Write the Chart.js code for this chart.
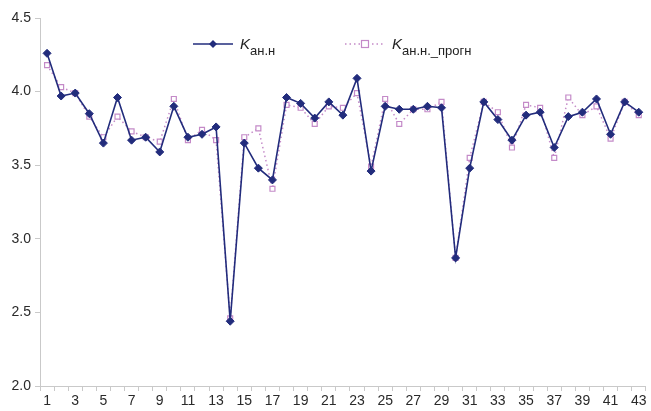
<!DOCTYPE html>
<html>
<head>
<meta charset="utf-8">
<script src="https://cdn.jsdelivr.net/npm/chart.js@4/dist/chart.umd.min.js"></script>
<style>
  html, body { margin: 0; padding: 0; background: #fff; }
  #wrap { width: 651px; height: 411px; position: relative; }
</style>
</head>
<body>
<div id="wrap"><canvas id="c" width="651" height="411"></canvas></div>
<script>
// Observation numbers 1..43
const categories = Array.from({ length: 43 }, (_, i) => String(i + 1));

// Measured coefficient K_ан.н
const kActual = [
  4.26, 3.97, 3.99, 3.85, 3.65, 3.96, 3.67, 3.69, 3.59, 3.90,
  3.69, 3.71, 3.76, 2.44, 3.65, 3.48, 3.40, 3.96, 3.92, 3.82,
  3.93, 3.84, 4.09, 3.46, 3.90, 3.88, 3.88, 3.90, 3.89, 2.87,
  3.48, 3.93, 3.81, 3.67, 3.84, 3.86, 3.62, 3.83, 3.86, 3.95,
  3.71, 3.93, 3.86
];

// Forecast coefficient K_ан.н._прогн
const kForecast = [
  4.18, 4.03, 3.99, 3.83, 3.69, 3.83, 3.73, 3.69, 3.66, 3.95,
  3.67, 3.74, 3.67, 2.46, 3.69, 3.75, 3.34, 3.91, 3.89, 3.78,
  3.90, 3.89, 3.99, 3.49, 3.95, 3.78, 3.88, 3.88, 3.93, 2.87,
  3.55, 3.93, 3.86, 3.62, 3.91, 3.89, 3.55, 3.96, 3.84, 3.90,
  3.68, 3.93, 3.84
];

const yTicks = [2.0, 2.5, 3.0, 3.5, 4.0, 4.5];

const NAVY = '#222c7c';
const PINK = '#c48ac8';
const AXIS = '#c9c9c9';
const FONT = '"Liberation Sans", Arial, sans-serif';

// Legend with subscripted labels, drawn inside the plot area
const subLegend = {
  id: 'subLegend',
  afterDraw(chart) {
    const ctx = chart.ctx;
    ctx.save();
    const y = 44;
    const entry = (x0, dashed, marker, sub) => {
      ctx.beginPath();
      ctx.lineWidth = 1.5;
      if (dashed) {
        ctx.setLineDash([1.5, 3]);
        ctx.strokeStyle = PINK;
      } else {
        ctx.setLineDash([]);
        ctx.strokeStyle = NAVY;
      }
      ctx.moveTo(x0, y);
      ctx.lineTo(x0 + 40, y);
      ctx.stroke();
      ctx.setLineDash([]);
      const mx = x0 + 20;
      if (marker === 'diamond') {
        ctx.fillStyle = NAVY;
        ctx.beginPath();
        ctx.moveTo(mx, y - 4); ctx.lineTo(mx + 4, y);
        ctx.lineTo(mx, y + 4); ctx.lineTo(mx - 4, y);
        ctx.closePath(); ctx.fill();
      } else {
        ctx.fillStyle = '#fff';
        ctx.strokeStyle = PINK;
        ctx.lineWidth = 1.2;
        ctx.fillRect(mx - 3.5, y - 3.5, 7, 7);
        ctx.strokeRect(mx - 3.5, y - 3.5, 7, 7);
      }
      ctx.fillStyle = '#222';
      ctx.textBaseline = 'alphabetic';
      ctx.font = 'italic 15px ' + FONT;
      ctx.fillText('K', x0 + 47, y + 5);
      ctx.font = '13px ' + FONT;
      ctx.fillText(sub, x0 + 57, y + 11);
    };
    entry(193, false, 'diamond', 'ан.н');
    entry(345, true, 'square', 'ан.н._прогн');
    ctx.restore();
  }
};

new Chart(document.getElementById('c'), {
  type: 'line',
  data: {
    labels: categories,
    datasets: [
      {
        label: 'Kан.н',
        data: kActual,
        borderColor: NAVY,
        backgroundColor: NAVY,
        borderWidth: 1.6,
        pointStyle: 'rectRot',
        pointRadius: 4,
        pointBorderWidth: 1,
        tension: 0,
        order: 0
      },
      {
        label: 'Kан.н._прогн',
        data: kForecast,
        borderColor: PINK,
        backgroundColor: '#ffffff',
        borderWidth: 1.5,
        borderDash: [1.5, 3],
        pointStyle: 'rect',
        pointRadius: 3.5,
        pointBorderWidth: 1.2,
        pointBorderColor: PINK,
        pointBackgroundColor: '#ffffff',
        tension: 0,
        order: 1
      }
    ]
  },
  options: {
    responsive: false,
    animation: false,
    layout: { padding: { top: 18, right: 3, left: 0, bottom: 0 } },
    plugins: {
      legend: { display: false },
      tooltip: { enabled: false }
    },
    scales: {
      x: {
        type: 'category',
        offset: true,
        grid: {
          display: true,
          drawOnChartArea: false,
          offset: true,
          tickLength: 5,
          color: AXIS
        },
        border: { color: AXIS, width: 1 },
        ticks: {
          autoSkip: false,
          maxRotation: 0,
          padding: 2,
          color: '#2a2a2a',
          font: { family: FONT, size: 14 },
          callback: (v, i) => (i % 2 === 0 ? categories[i] : '')
        },
        afterFit: s => { s.height = 25; }
      },
      y: {
        min: 2.0,
        max: 4.5,
        afterBuildTicks: s => { s.ticks = yTicks.map(v => ({ value: v })); },
        grid: {
          display: true,
          drawOnChartArea: false,
          tickLength: 5,
          color: AXIS
        },
        border: { color: AXIS, width: 1 },
        ticks: {
          padding: 4,
          color: '#2a2a2a',
          font: { family: FONT, size: 14 },
          callback: v => Number(v).toFixed(1)
        },
        afterFit: s => { s.width = 40; }
      }
    }
  },
  plugins: [subLegend]
});
</script>
</body>
</html>
